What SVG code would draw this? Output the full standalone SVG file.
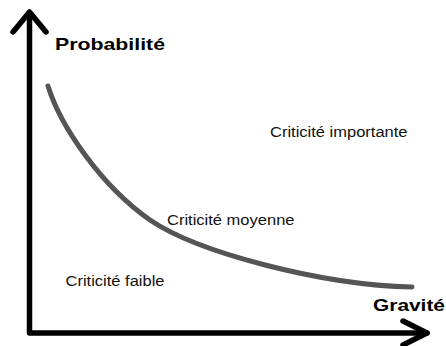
<svg xmlns="http://www.w3.org/2000/svg" width="446" height="346" viewBox="0 0 446 346">
  <style>
    .axis { fill: none; stroke: #000; stroke-width: 5.5; stroke-linecap: round; stroke-linejoin: round; }
    .curve { fill: none; stroke: #555; stroke-width: 5; stroke-linecap: round; }
    .title { font-family: "Liberation Sans", Arial, sans-serif; font-weight: bold; font-size: 17px; fill: #000; }
    .zone { font-family: "Liberation Sans", Arial, sans-serif; font-size: 14px; fill: #111; }
  </style>
  <rect width="446" height="346" fill="#fff"/>
  <g id="axes">
    <polyline class="axis" points="29.5,13 29.5,333 427,333"/>
    <polyline class="axis" points="13,32 29.5,12 46,32"/>
    <polyline class="axis" points="403,321 427,333 403,345"/>
  </g>
  <g id="curve">
    <path class="curve" d="M48,86 C60,125 100,185 150,220 C197,252 320,285 412,287"/>
  </g>
  <g id="labels">
    <text class="title" x="55" y="49.5" textLength="110" lengthAdjust="spacingAndGlyphs">Probabilité</text>
    <text class="title" x="373" y="311" textLength="72" lengthAdjust="spacingAndGlyphs">Gravité</text>
    <text class="zone" x="270" y="137" textLength="137.5" lengthAdjust="spacingAndGlyphs">Criticité importante</text>
    <text class="zone" x="167" y="225" textLength="127.5" lengthAdjust="spacingAndGlyphs">Criticité moyenne</text>
    <text class="zone" x="65.5" y="286" textLength="99" lengthAdjust="spacingAndGlyphs">Criticité faible</text>
  </g>
</svg>
